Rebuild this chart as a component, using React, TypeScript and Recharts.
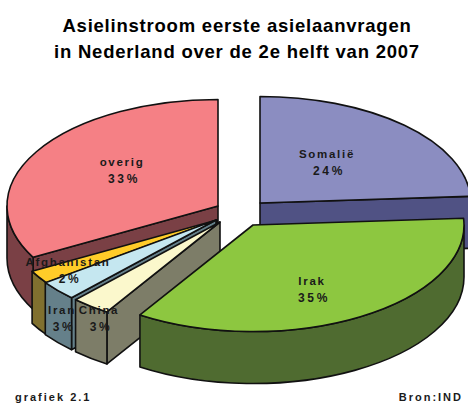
import React from 'react';
import { PieChart, Pie } from 'recharts';

const WIDTH = 468;
const HEIGHT = 403;

const names = ['Somalië', 'Irak', 'China', 'Iran', 'Afghanistan', 'overig'];
const shares = [24, 35, 3, 3, 2, 33];
const topColors = ['#8b8dc1', '#8dc740', '#fbf8cc', '#c5e7f0', '#ffcc29', '#f58085'];
const sideColors = ['#505284', '#4f6b30', '#7d7d68', '#65808a', '#80702f', '#7a4045'];

const titleLines = ['Asielinstroom eerste asielaanvragen', 'in Nederland over de 2e helft van 2007'];

// painter's order, back to front (indexes into names)
const drawOrder = [5, 4, 3, 2, 0, 1];

// where each exploded slice has its tip
const tips = [
  { x: 260, y: 203 },
  { x: 253, y: 225 },
  { x: 220, y: 222 },
  { x: 216, y: 220 },
  { x: 217, y: 220 },
  { x: 218, y: 206 },
];

// label centre relative to the slice tip
const labelShift = [
  { x: 67, y: -45 },
  { x: 59, y: 60 },
  { x: -121, y: 92 },
  { x: -154, y: 94 },
  { x: -149, y: 46 },
  { x: -96, y: -40 },
];

const RADIUS = 211;
const SQUASH = 0.505;
const DEPTH = 52;
const EDGE = '#111';

const rad = (d: number) => (d * Math.PI) / 180;

// angle is recharts style: degrees counter clockwise from 3 o'clock
const rim = (cx: number, cy: number, a: number, drop = 0) => ({
  x: cx + RADIUS * Math.cos(rad(a)),
  y: cy - RADIUS * SQUASH * Math.sin(rad(a)) + drop,
});

const arcTo = (p: { x: number; y: number }, large: boolean, sweep: number) =>
  `A ${RADIUS} ${RADIUS * SQUASH} 0 ${large ? 1 : 0} ${sweep} ${p.x} ${p.y}`;

const Slice3D = ({ cx, cy, startAngle, endAngle, index }: any) => {
  const top = topColors[index];
  const side = sideColors[index];
  const a = rim(cx, cy, startAngle);
  const b = rim(cx, cy, endAngle);
  const walls: string[] = [];

  // start edge wall faces the viewer on the left half, end edge wall on the right half
  if (Math.sin(rad(90 - startAngle)) < 0) {
    const d = rim(cx, cy, startAngle, DEPTH);
    walls.push(`M ${cx} ${cy} L ${a.x} ${a.y} L ${d.x} ${d.y} L ${cx} ${cy + DEPTH} Z`);
  }
  if (Math.sin(rad(90 - endAngle)) > 0) {
    const d = rim(cx, cy, endAngle, DEPTH);
    walls.push(`M ${cx} ${cy} L ${b.x} ${b.y} L ${d.x} ${d.y} L ${cx} ${cy + DEPTH} Z`);
  }

  // outer wall only along the front half of the ellipse
  const from = Math.min(startAngle, 0);
  const to = Math.max(endAngle, -180);
  if (from > to) {
    const p1 = rim(cx, cy, from);
    const p2 = rim(cx, cy, to);
    const p3 = rim(cx, cy, to, DEPTH);
    const p4 = rim(cx, cy, from, DEPTH);
    walls.push(`M ${p1.x} ${p1.y} ${arcTo(p2, false, 1)} L ${p3.x} ${p3.y} ${arcTo(p4, false, 0)} Z`);
  }

  const large = startAngle - endAngle > 180;
  return (
    <g stroke={EDGE} strokeWidth={1.6} strokeLinejoin="round">
      {walls.map((d, i) => (
        <path key={i} d={d} fill={side} />
      ))}
      <path d={`M ${cx} ${cy} L ${a.x} ${a.y} ${arcTo(b, large, 1)} Z`} fill={top} />
    </g>
  );
};

const labelStyle = { fontFamily: 'Liberation Sans', fontWeight: 700, fontSize: 11.5, letterSpacing: 1.7, fill: '#1a1a1a' };

const sliceLabel = ({ index, name, value }: any) => {
  const x = tips[index].x + labelShift[index].x;
  const y = tips[index].y + labelShift[index].y;
  return (
    <text key={name} textAnchor="middle" style={labelStyle}>
      <tspan x={x} y={y}>{name}</tspan>
      <tspan x={x + 2} y={y + 17} fontSize={12} letterSpacing={2.6}>{value}%</tspan>
    </text>
  );
};

const rows = names.map((name, i) => ({ name, value: shares[i] }));

const App = () => {
  const layers = drawOrder.map((sliceIndex) => {
    const shape = (props: any) => (props.index === sliceIndex ? <Slice3D {...props} /> : <g />);
    return (
      <Pie
        key={names[sliceIndex]}
        data={rows}
        dataKey="value"
        nameKey="name"
        cx={tips[sliceIndex].x}
        cy={tips[sliceIndex].y}
        outerRadius={RADIUS}
        startAngle={90}
        endAngle={-270}
        isAnimationActive={false}
        shape={shape}
        activeShape={shape}
        inactiveShape={shape}
        rootTabIndex={-1}
      />
    );
  });

  return (
    <div style={{ position: 'absolute', left: 0, top: 0, width: WIDTH, height: HEIGHT, overflow: 'hidden', background: '#fff' }}>
      <PieChart width={WIDTH} height={HEIGHT} margin={{ top: 0, right: 0, bottom: 0, left: 0 }}>
        {layers}
        <Pie
          data={rows}
          dataKey="value"
          nameKey="name"
          cx={238}
          cy={215}
          outerRadius={RADIUS}
          startAngle={90}
          endAngle={-270}
          isAnimationActive={false}
          fill="none"
          stroke="none"
          label={sliceLabel}
          labelLine={false}
        />
        {titleLines.map((line, i) => (
          <text key={line} x={237} y={32 + i * 26} textAnchor="middle" style={{ fontFamily: 'Liberation Sans', fontWeight: 700, fontSize: 18.5, letterSpacing: 0.78, fill: '#000' }}>
            {line}
          </text>
        ))}
        <text x={15} y={401} style={{ ...labelStyle, fontSize: 11, letterSpacing: 2 }}>grafiek 2.1</text>
        <text x={463} y={401} textAnchor="end" style={{ ...labelStyle, fontSize: 11, letterSpacing: 2 }}>Bron:IND</text>
      </PieChart>
    </div>
  );
};

export default App;
